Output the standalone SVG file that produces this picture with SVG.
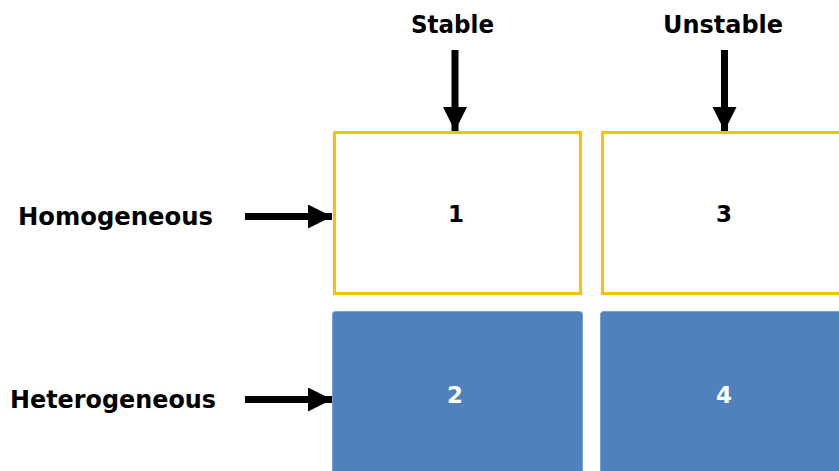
<svg xmlns="http://www.w3.org/2000/svg" width="839" height="471" viewBox="0 0 839 471">
<style>
.lbl{font-family:"DejaVu Sans",Verdana,sans-serif;font-weight:bold;font-size:24px;fill:#000}
.num{font-family:"DejaVu Sans",Verdana,sans-serif;font-weight:bold;font-size:23px;text-anchor:middle}
.open{fill:#fff;stroke:#FFC000;stroke-width:3}
.filled{fill:#4F81BD;stroke:#7A9FD0;stroke-width:1}
.arr{stroke:#000;stroke-width:7;fill:none}
</style>
<defs>
<marker id="ah" markerUnits="userSpaceOnUse" markerWidth="24" markerHeight="24" refX="24" refY="12" orient="auto">
<path d="M0,0 L24,12 L0,24 Z" fill="#000"/>
</marker>
</defs>
<rect width="839" height="471" fill="#fff"/>
<g id="node-1"><rect class="open" x="334.5" y="132.5" width="246" height="161"/><text class="num" x="456" y="222" fill="#000">1</text></g>
<g id="node-3"><rect class="open" x="602.5" y="132.5" width="246" height="161"/><text class="num" x="724" y="222" fill="#000">3</text></g>
<g id="node-2"><rect class="filled" x="332.5" y="311.5" width="250" height="170" rx="3"/><text class="num" x="455" y="403" fill="#fff">2</text></g>
<g id="node-4"><rect class="filled" x="600.5" y="311.5" width="250" height="170" rx="3"/><text class="num" x="724" y="403" fill="#fff">4</text></g>
<g id="label-stable"><text class="lbl" x="411" y="33" textLength="83" lengthAdjust="spacingAndGlyphs">Stable</text></g>
<g id="label-unstable"><text class="lbl" x="663" y="33" textLength="120" lengthAdjust="spacingAndGlyphs">Unstable</text></g>
<g id="label-homogeneous"><text class="lbl" x="18" y="225" textLength="195" lengthAdjust="spacingAndGlyphs">Homogeneous</text></g>
<g id="label-heterogeneous"><text class="lbl" x="10" y="408" textLength="206" lengthAdjust="spacingAndGlyphs">Heterogeneous</text></g>
<g id="connectors">
<line class="arr" x1="455" y1="50" x2="455" y2="131" marker-end="url(#ah)"/>
<line class="arr" x1="724.5" y1="50" x2="724.5" y2="131" marker-end="url(#ah)"/>
<line class="arr" x1="245" y1="216.5" x2="332" y2="216.5" marker-end="url(#ah)"/>
<line class="arr" x1="245" y1="399.5" x2="332" y2="399.5" marker-end="url(#ah)"/>
</g>
</svg>
